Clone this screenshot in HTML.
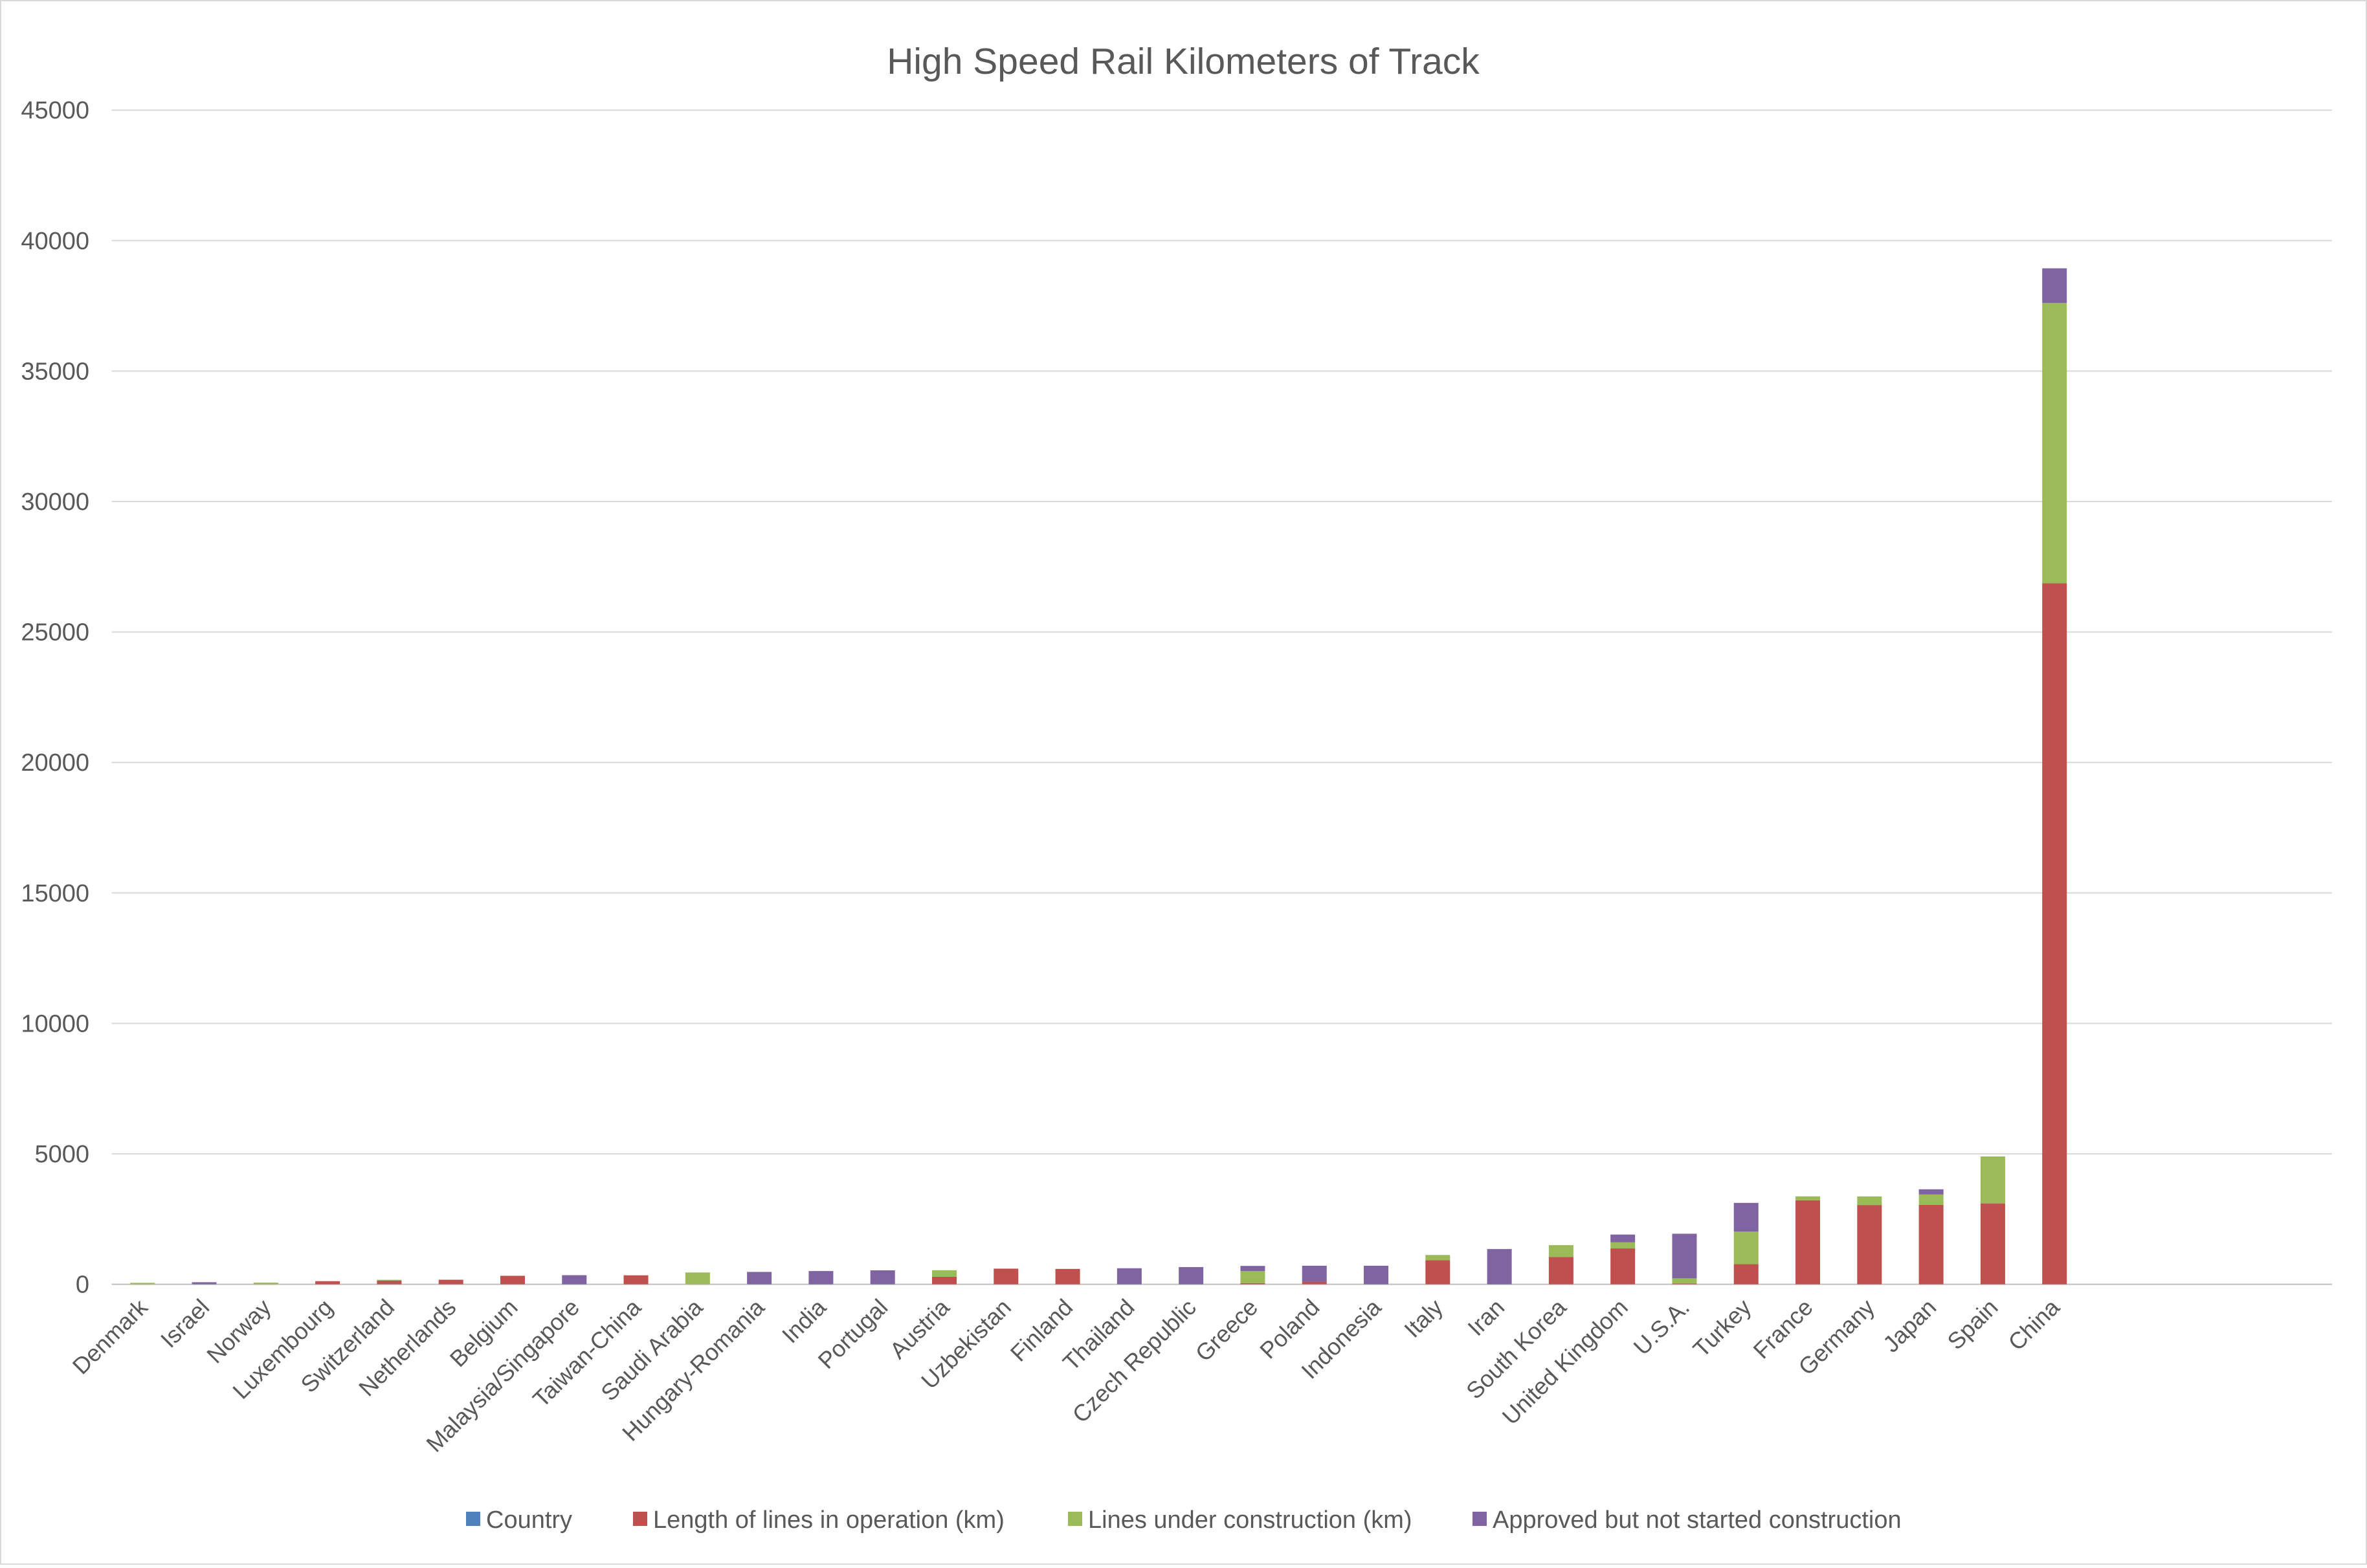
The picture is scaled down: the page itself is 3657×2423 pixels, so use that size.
<!DOCTYPE html>
<html><head><meta charset="utf-8"><style>
body{margin:0;background:#fff;}
svg text{font-family:"Liberation Sans",sans-serif;fill:#595959;}
</style></head><body>
<svg id="chart" width="3657" height="2418" xmlns="http://www.w3.org/2000/svg">
<rect x="1" y="1" width="3655" height="2416" fill="#fff" stroke="#d9d9d9" stroke-width="2"/>
<text x="1828" y="114" font-size="57" text-anchor="middle">High Speed Rail Kilometers of Track</text>
<g id="grid"></g><g id="bars"></g><g id="xlabels"></g><g id="legend"></g>
</svg>
<script>
const categories=["Denmark","Israel","Norway","Luxembourg","Switzerland","Netherlands","Belgium","Malaysia/Singapore","Taiwan-China","Saudi Arabia","Hungary-Romania","India","Portugal","Austria","Uzbekistan","Finland","Thailand","Czech Republic","Greece","Poland","Indonesia","Italy","Iran","South Korea","United Kingdom","U.S.A.","Turkey","France","Germany","Japan","Spain","China"];
const operation=[0,0,0,120,144,175,326,0,345,0,0,0,0,290,600,590,0,0,45,100,0,923,0,1050,1377,28,770,3220,3038,3041,3100,26870];
const construction=[56,0,64,0,30,0,0,0,0,453,0,0,0,250,0,0,0,0,460,0,0,200,0,450,230,200,1250,150,330,400,1800,10738];
const approved=[0,80,0,0,0,0,0,350,0,0,475,508,535,0,0,0,615,660,200,612,712,0,1351,0,300,1710,1100,0,0,200,0,1330];
const yTicks=[0,5000,10000,15000,20000,25000,30000,35000,40000,45000];
const seriesNames=["Country","Length of lines in operation (km)","Lines under construction (km)","Approved but not started construction"];
const colors=["#4f81bd","#c0504d","#9bbb59","#8064a2"];
const NS="http://www.w3.org/2000/svg";
const L=172.6,R=3603,Y0=1984.6,YT=170.2,NCAT=36,bw=38;
const cw=(R-L)/NCAT;
const y=v=>Y0-(v/45000)*(Y0-YT);
const xc=i=>L+cw*(i+0.5);
function mk(t,a,p){const e=document.createElementNS(NS,t);for(const k in a)e.setAttribute(k,a[k]);p.appendChild(e);return e;}
const grid=document.getElementById('grid');
yTicks.forEach(t=>{
 const l=mk('line',{x1:L,x2:R,y1:y(t),y2:y(t),stroke:t===0?'#bfbfbf':'#d9d9d9','stroke-width':2},grid);
 
 
 const tx=mk('text',{x:138,y:y(t)+13,'font-size':38,'text-anchor':'end'},grid);tx.textContent=t;
 
 
});
const bars=document.getElementById('bars'),xl=document.getElementById('xlabels');
categories.forEach((c,i)=>{
 let base=0;
 [[operation,1,'operation'],[construction,2,'construction'],[approved,3,'approved']].forEach(([arr,ci,nm])=>{
  const v=arr[i];if(v<=0)return;
  const r=mk('rect',{x:xc(i)-bw/2,y:y(base+v),width:bw,height:y(base)-y(base+v),fill:colors[ci]},bars);
  
  
  base+=v;
 });
 const t=mk('text',{x:0,y:0,'font-size':36,'text-anchor':'end',transform:`translate(${xc(i)+10},${Y0+38}) rotate(-45)`},xl);
 t.textContent=c;
 
 
});
const lg=document.getElementById('legend');
const lx=[720,978,1650,2275];
seriesNames.forEach((n,i)=>{
 const g=mk('g',{},lg);
 
 
 mk('rect',{x:lx[i],y:2336,width:22,height:22,fill:colors[i]},g);
 const t=mk('text',{x:lx[i]+31,y:2361,'font-size':38},g);t.textContent=n;
});
</script>
</body></html>
